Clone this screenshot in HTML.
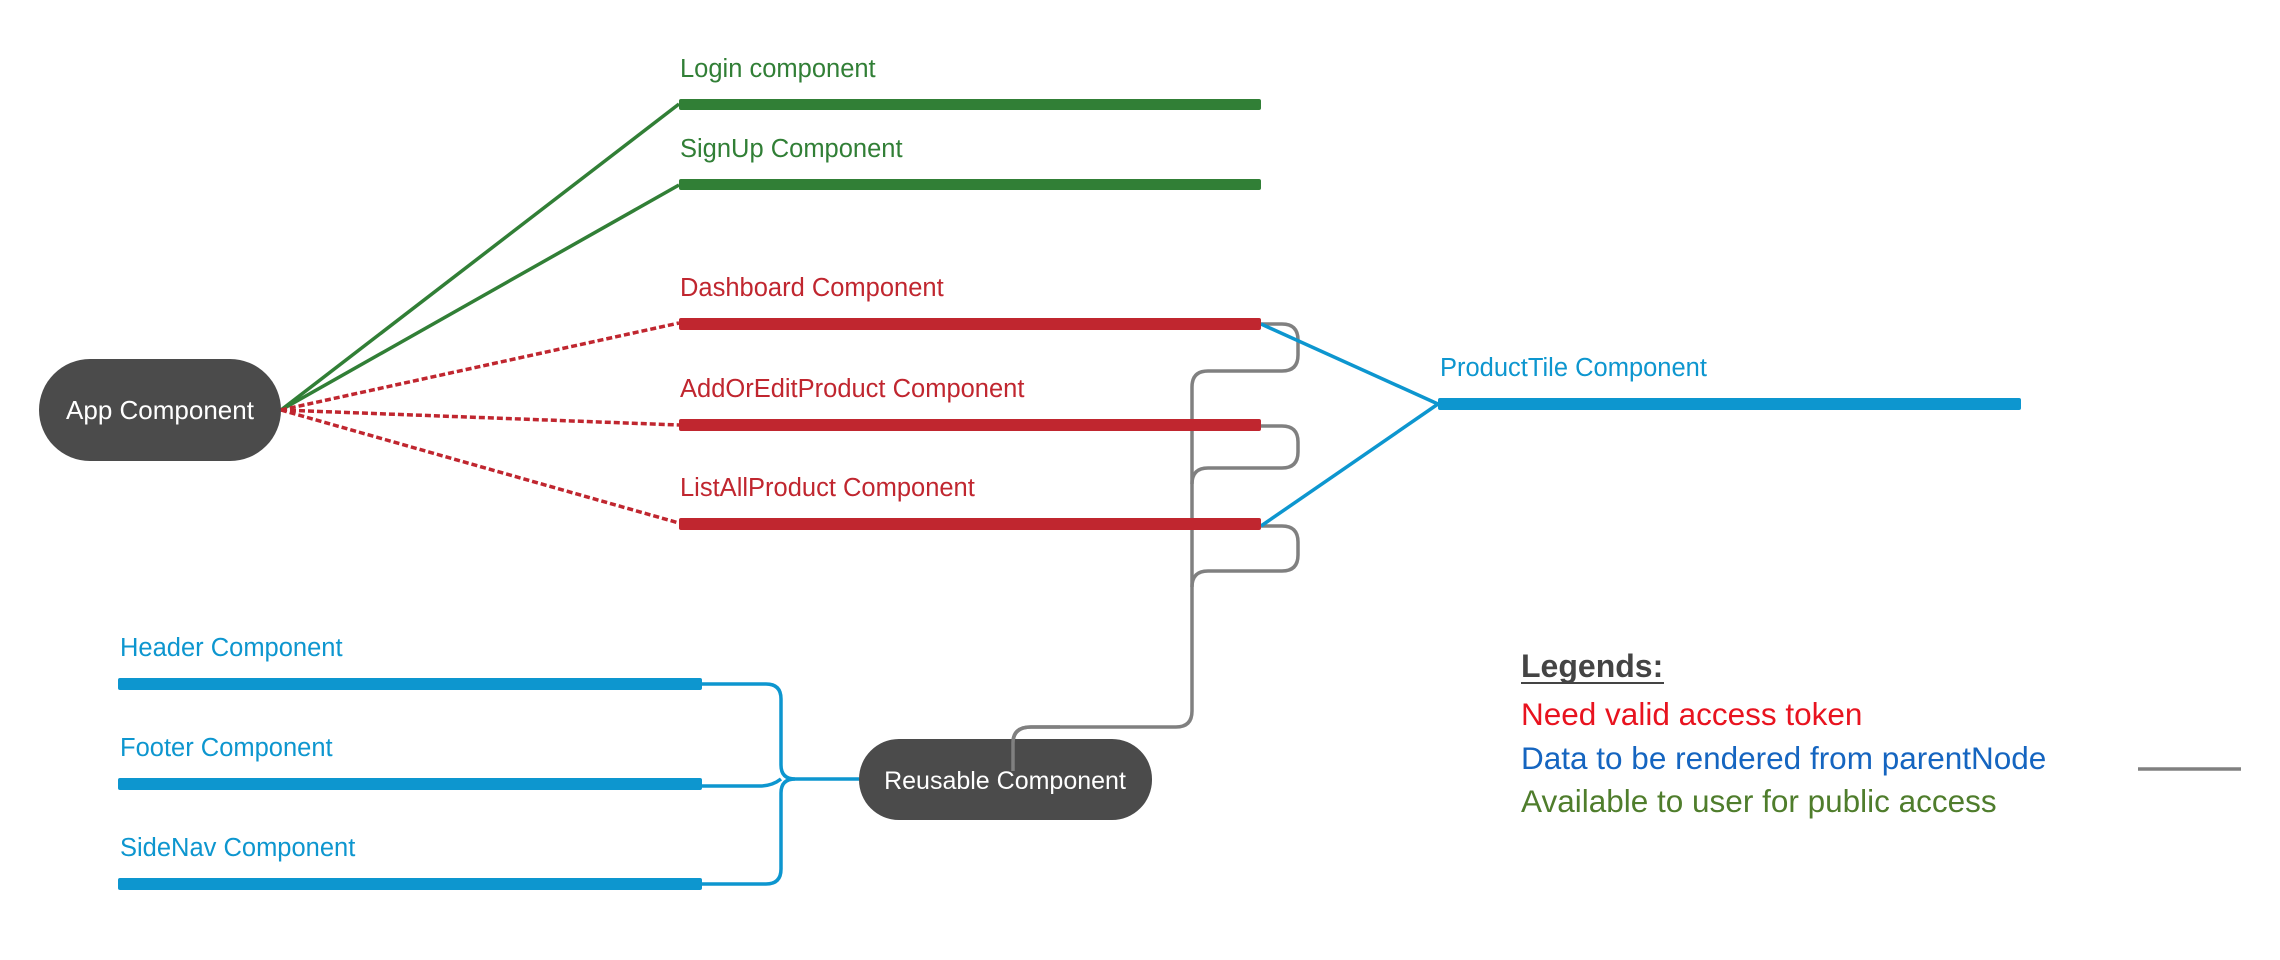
<!DOCTYPE html>
<html><head><meta charset="utf-8"><style>
html,body{margin:0;padding:0;background:#fff;}
svg{display:block;}
text{font-family:"Liberation Sans",sans-serif;}
</style></head><body>
<svg width="2280" height="960" viewBox="0 0 2280 960" xmlns="http://www.w3.org/2000/svg">
<g stroke="#317f36" stroke-width="3.5" fill="none">
<line x1="281" y1="410" x2="679" y2="104"/>
<line x1="281" y1="410" x2="679" y2="185"/>
</g>
<g stroke="#c0262f" stroke-width="3.5" fill="none" stroke-dasharray="6,3">
<line x1="281" y1="410" x2="679" y2="323"/>
<line x1="281" y1="410" x2="679" y2="425"/>
<line x1="281" y1="410" x2="679" y2="523"/>
</g>
<g stroke="#808080" stroke-width="3.5" fill="none">
<path d="M1261 324 H1282 Q1298 324 1298 340 V355 Q1298 371 1282 371 H1208 Q1192 371 1192 387 V711 Q1192 727 1176 727 H1031 Q1013 727 1013 743 V771"/>
<path d="M1261 426 H1282 Q1298 426 1298 442 V452 Q1298 468 1282 468 H1208 Q1192 468 1192 484"/>
<path d="M1261 526 H1282 Q1298 526 1298 542 V555 Q1298 571 1282 571 H1208 Q1192 571 1192 587"/>
</g>
<g stroke="#0d96cf" stroke-width="3.5" fill="none">
<line x1="1261" y1="324" x2="1438" y2="404"/>
<line x1="1261" y1="526" x2="1438" y2="404"/>
<path d="M702 684 H766 Q781 684 781 699 V765 Q781 779 795 779 H859"/>
<path d="M702 786 H760 Q772 786 781 779"/>
<path d="M702 884 H766 Q781 884 781 869 V793 Q781 779 795 779"/>
</g>
<g>
<rect x="679" y="99" width="582" height="11" rx="2" fill="#317f36"/>
<rect x="679" y="179" width="582" height="11" rx="2" fill="#317f36"/>
<rect x="679" y="318" width="582" height="12" rx="2" fill="#c0262f"/>
<rect x="679" y="419" width="582" height="12" rx="2" fill="#c0262f"/>
<rect x="679" y="518" width="582" height="12" rx="2" fill="#c0262f"/>
<rect x="1438" y="398" width="583" height="12" rx="2" fill="#0d96cf"/>
<rect x="118" y="678" width="584" height="12" rx="2" fill="#0d96cf"/>
<rect x="118" y="778" width="584" height="12" rx="2" fill="#0d96cf"/>
<rect x="118" y="878" width="584" height="12" rx="2" fill="#0d96cf"/>
</g>
<rect x="39" y="359" width="242" height="102" rx="51" fill="#4b4b4b"/>
<text x="160" y="419" font-size="26" fill="#fff" text-anchor="middle">App Component</text>
<rect x="859" y="739" width="293" height="81" rx="40" fill="#4b4b4b"/>
<path d="M1060 727 H1031 Q1013 727 1013 743 V771" stroke="#808080" stroke-width="3.5" fill="none"/>
<text x="1005" y="789" font-size="25" fill="#fff" text-anchor="middle">Reusable Component</text>
<g font-size="25.5">
<text x="680" y="77" fill="#317f36">Login component</text>
<text x="680" y="157" fill="#317f36">SignUp Component</text>
<text x="680" y="296" fill="#c0262f">Dashboard Component</text>
<text x="680" y="397" fill="#c0262f">AddOrEditProduct Component</text>
<text x="680" y="496" fill="#c0262f">ListAllProduct Component</text>
<text x="1440" y="376" fill="#0d96cf">ProductTile Component</text>
<text x="120" y="656" fill="#0d96cf">Header Component</text>
<text x="120" y="756" fill="#0d96cf">Footer Component</text>
<text x="120" y="856" fill="#0d96cf">SideNav Component</text>
</g>
<text x="1521" y="677" font-size="32" font-weight="bold" fill="#444">Legends:</text>
<line x1="1521" y1="683" x2="1664" y2="683" stroke="#444" stroke-width="2"/>
<text x="1521" y="725" font-size="31.5" fill="#e8131f">Need valid access token</text>
<text x="1521" y="769" font-size="31.5" fill="#1565c0">Data to be rendered from parentNode</text>
<text x="1521" y="812" font-size="31.5" fill="#4f7d2c">Available to user for public access</text>
<line x1="2138" y1="769" x2="2241" y2="769" stroke="#808080" stroke-width="3.5"/>
</svg>
</body></html>
